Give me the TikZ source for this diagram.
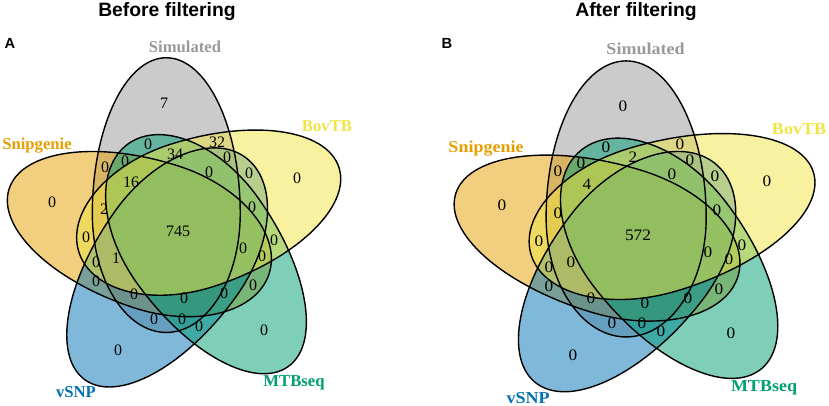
\documentclass[tikz,border=0pt]{standalone}
\usepackage{fontspec}
\usepackage{graphicx}
\setmainfont{Liberation Serif}
\newfontfamily\titlefont{Liberation Sans}
\definecolor{csim}{HTML}{999999}
\definecolor{csnip}{HTML}{E69F00}
\definecolor{cbov}{HTML}{F0E442}
\definecolor{cvsnp}{HTML}{0072B2}
\definecolor{cmtb}{HTML}{009E73}
\tikzset{
  eggfill/.style={fill=#1, fill opacity=0.5, draw=none},
  eggline/.style={draw=black, line width=1.05pt, fill=none},
  num/.style={font=\fontsize{12}{12}\selectfont, inner sep=0pt, anchor=center},
  setlabel/.style={font=\fontsize{12.5}{12.5}\selectfont\bfseries, inner sep=0pt, anchor=base, text=#1},
  paneltitle/.style={font=\titlefont\fontsize{14.5}{14.5}\selectfont\bfseries, inner sep=0pt, anchor=base},
  panelletter/.style={font=\titlefont\fontsize{11}{11}\selectfont\bfseries, inner sep=0pt, anchor=base},
}
% egg shape: tip half (outward) and inner half
\newcommand\egg[2]{%
  \path[#2, rotate=#1, shift={(-11,-18)}]
    (72.5,0) arc[start angle=0, end angle=-180, x radius=72.5, y radius=152]
    arc[start angle=-180, end angle=-360, x radius=72.5, y radius=116] -- cycle;}
\newcommand\vennbody{%
  \egg{0}{eggfill=csim}
  \egg{72}{eggfill=csnip}
  \egg{144}{eggfill=cvsnp}
  \egg{216}{eggfill=cmtb}
  \egg{288}{eggfill=cbov}
  \egg{0}{eggline}
  \egg{72}{eggline}
  \egg{144}{eggline}
  \egg{216}{eggline}
  \egg{288}{eggline}}
\begin{document}
\begin{tikzpicture}[x=0.75pt, y=-0.75pt]
\fill[white] (0,0) rectangle (829,406);
\useasboundingbox (0,0) rectangle (829,406);
% ---------- panel A ----------
\begin{scope}[shift={(177.5,232)}, xscale=1.02, yscale=1.025]
  \vennbody
\end{scope}
\node[paneltitle] (titleA) at (167,16.7) {Before filtering};
\node[panelletter] (letterA) at (10,48.3) {A};
\node[setlabel=csim] (simA) at (185,52.7) {Simulated};
\node[setlabel=csnip] (snipA) at (37,150) {Snipgenie};
\node[setlabel=cbov] (bovA) at (327,131.7) {BovTB};
\node[setlabel=cvsnp] (vsnpA) at (76,397) {vSNP};
\node[setlabel=cmtb] (mtbA) at (294,386.7) {MTBseq};
\foreach [count=\i] \x/\y/\t in {164/103/7, 52/202/0, 297/178/0, 118/350/0, 264/330/0,
  148/144/0, 217/142/32, 175/154/34, 125/161/0, 227/157/0, 105/167/0, 131/182/16,
  209/172/0, 249/173/0, 104/209/2, 252/207/0, 86/237/0, 178/231/745, 274/240/0,
  243/248/0, 262/256/0, 96/262/0, 116/258/1, 96/281/0, 253/285/0, 134/294/0,
  184/298/0, 224/293/0, 154/319/0, 182/319/0, 199/326/0}
  \node[num] (a\i) at (\x,\y) {\t};
% ---------- panel B ----------
\begin{scope}[shift={(638.3,236)}, xscale=1.104, yscale=1.03]
  \vennbody
\end{scope}
\node[paneltitle] (titleB) at (636,16.7) {After filtering};
\node[panelletter] (letterB) at (447,48.3) {B};
\node[setlabel=csim] (simB) at (645.5,54.3) {\scalebox{1.08}[1]{Simulated}};
\node[setlabel=csnip] (snipB) at (486,153) {\scalebox{1.08}[1]{Snipgenie}};
\node[setlabel=cbov] (bovB) at (799,135) {\scalebox{1.08}[1]{BovTB}};
\node[setlabel=cvsnp] (vsnpB) at (528,403) {\scalebox{1.08}[1]{vSNP}};
\node[setlabel=cmtb] (mtbB) at (764,391.7) {\scalebox{1.08}[1]{MTBseq}};
\foreach [count=\i] \x/\y/\t in {623/106/0, 502/205/0, 767/181/0, 573/355/0, 731/333/0,
  606/147/0, 680/144/0, 633/157/2, 581/163/0, 690/160/0, 558/171/0, 587/184/4,
  672/174/0, 715/176/0, 558/213/0, 717/210/0, 539/241/0, 638/235/572, 742/245/0,
  708/252/0, 729/259/0, 549/267/0, 571/262/0, 549/286/0, 719/289/0, 591/298/0,
  645/303/0, 688/298/0, 612/323/0, 642/323/0, 661/331/0}
  \node[num] (b\i) at (\x,\y) {\scalebox{1.08}[1]{\t}};
\end{tikzpicture}
\end{document}
